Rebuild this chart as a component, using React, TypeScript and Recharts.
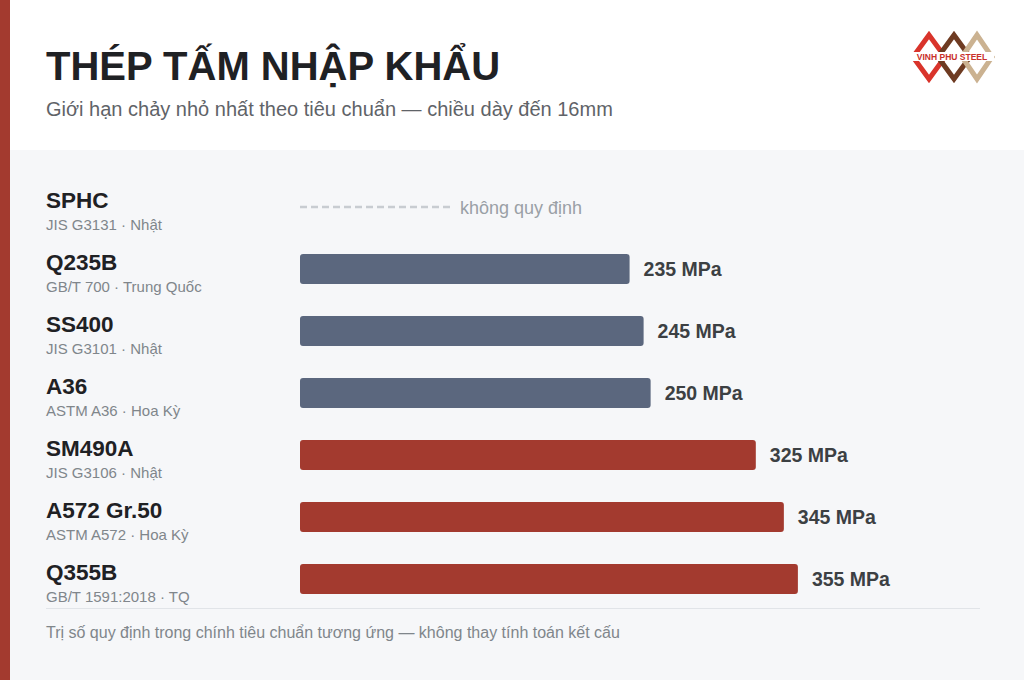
import React from 'react';
import { BarChart, Bar, XAxis, YAxis, Cell, LabelList } from 'recharts';

const grades = ['SPHC', 'Q235B', 'SS400', 'A36', 'SM490A', 'A572 Gr.50', 'Q355B'];
const standards = [
  'JIS G3131 · Nhật',
  'GB/T 700 · Trung Quốc',
  'JIS G3101 · Nhật',
  'ASTM A36 · Hoa Kỳ',
  'JIS G3106 · Nhật',
  'ASTM A572 · Hoa Kỳ',
  'GB/T 1591:2018 · TQ',
];
const yieldMPa: (number | null)[] = [null, 235, 245, 250, 325, 345, 355];
const strengthClass = ['none', 'normal', 'normal', 'normal', 'high', 'high', 'high'];

const TITLE = 'THÉP TẤM NHẬP KHẨU';
const SUBTITLE = 'Giới hạn chảy nhỏ nhất theo tiêu chuẩn — chiều dày đến 16mm';
const FOOTNOTE = 'Trị số quy định trong chính tiêu chuẩn tương ứng — không thay tính toán kết cấu';
const NOT_SPECIFIED = 'không quy định';
const UNIT = 'MPa';

const data = grades.map((g, i) => ({
  grade: g,
  standard: standards[i],
  value: yieldMPa[i],
  cls: strengthClass[i],
}));

const FONT = '"Liberation Sans", Arial, Helvetica, sans-serif';
const RED = '#a33a2f';
const SLATE = '#5b677e';
const PLOT_LEFT = 300;

const GradeTick = (props: any) => {
  const { y, payload, index } = props;
  const row = data[index] ?? data.find((d) => d.grade === payload.value);
  return (
    <g>
      <text x={46} y={y + 1} fontSize={22.5} fontWeight={700} fill="#1f2124" fontFamily={FONT}>
        {payload.value}
      </text>
      <text x={46} y={y + 23} fontSize={15} fill="#80868b" fontFamily={FONT}>
        {row ? row.standard : ''}
      </text>
      {row && row.value == null ? (
        <g>
          <line
            x1={PLOT_LEFT}
            x2={PLOT_LEFT + 152}
            y1={y}
            y2={y}
            stroke="#c8ccd1"
            strokeWidth={2.5}
            strokeDasharray="7 4"
          />
          <text x={PLOT_LEFT + 160} y={y + 7} fontSize={18} fill="#9aa0a6" fontFamily={FONT}>
            {NOT_SPECIFIED}
          </text>
        </g>
      ) : null}
    </g>
  );
};

const ValueLabel = (props: any) => {
  const { x, y, width, height, value } = props;
  if (value == null) return null;
  return (
    <text
      x={x + width + 14}
      y={y + height / 2 + 7}
      fontSize={19.5}
      fontWeight={700}
      fill="#3c4043"
      fontFamily={FONT}
    >
      {`${value} ${UNIT}`}
    </text>
  );
};

const Logo = () => (
  <svg width={90} height={60} style={{ position: 'absolute', left: 906, top: 27 }}>
    <path d="M7 30 L23 8 L39 30 L23 52 Z" fill="none" stroke="#d9342b" strokeWidth={5} />
    <path d="M32 30 L48 8 L64 30 L48 52 Z" fill="none" stroke="#6e3b22" strokeWidth={5} />
    <path d="M56 30 L71 8 L86 30 L71 52 Z" fill="none" stroke="#cbb291" strokeWidth={5} />
    <rect x={4} y={25} width={84} height={9} fill="#ffffff" />
    <text x={46} y={33} textAnchor="middle" fontSize={8.5} fontWeight={700} fill="#c9302a" fontFamily={FONT}>
      VINH PHU STEEL
    </text>
  </svg>
);

export default function App() {
  return (
    <div
      style={{
        position: 'relative',
        width: 1024,
        height: 680,
        overflow: 'hidden',
        background: '#f6f7f9',
        fontFamily: FONT,
      }}
    >
      <style>{'body{margin:0}'}</style>
      <div style={{ position: 'absolute', left: 0, top: 0, width: 1024, height: 150, background: '#ffffff' }} />
      <div style={{ position: 'absolute', left: 0, top: 0, width: 10, height: 680, background: RED }} />
      <div
        style={{
          position: 'absolute',
          left: 46,
          top: 43,
          fontSize: 40,
          fontWeight: 700,
          color: '#1f2124',
          lineHeight: '46px',
          whiteSpace: 'nowrap',
        }}
      >
        {TITLE}
      </div>
      <div
        style={{
          position: 'absolute',
          left: 46,
          top: 97,
          fontSize: 20,
          color: '#5f6368',
          lineHeight: '24px',
          whiteSpace: 'nowrap',
        }}
      >
        {SUBTITLE}
      </div>
      <Logo />
      <div style={{ position: 'absolute', left: 46, top: 608, width: 934, height: 1, background: '#e1e4e8' }} />
      <div
        style={{
          position: 'absolute',
          left: 46,
          top: 623,
          fontSize: 16,
          color: '#80868b',
          lineHeight: '19px',
          whiteSpace: 'nowrap',
        }}
      >
        {FOOTNOTE}
      </div>
      <div style={{ position: 'absolute', left: 0, top: 0 }}>
        <BarChart
          width={1024}
          height={680}
          data={data}
          layout="vertical"
          margin={{ top: 176, bottom: 70, left: 46, right: 163 }}
          barCategoryGap={0}
        >
          <XAxis type="number" domain={[0, 400]} hide />
          <YAxis
            type="category"
            dataKey="grade"
            width={254}
            axisLine={false}
            tickLine={false}
            tick={<GradeTick />}
            interval={0}
          />
          <Bar dataKey="value" barSize={30} radius={3} isAnimationActive={false}>
            {data.map((d, i) => (
              <Cell key={i} fill={d.cls === 'high' ? RED : SLATE} />
            ))}
            <LabelList dataKey="value" content={<ValueLabel />} />
          </Bar>
        </BarChart>
      </div>
    </div>
  );
}
